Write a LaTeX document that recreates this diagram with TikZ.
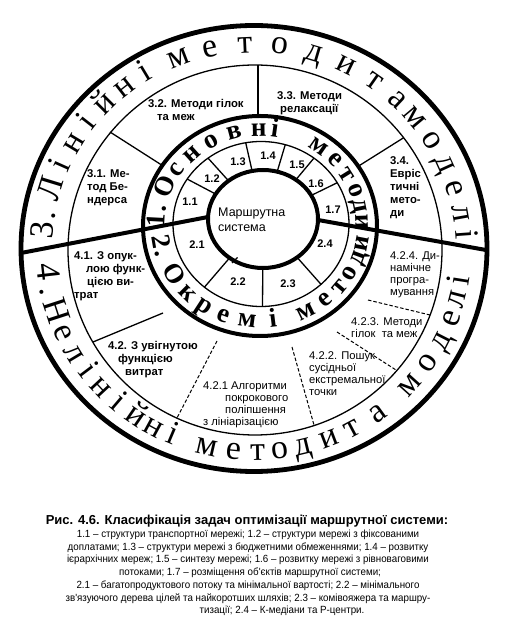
\documentclass[tikz,border=0pt]{standalone}
\usepackage{fontspec}
\setmainfont{Liberation Serif}
\newfontfamily\arialf{Liberation Sans}
\newfontfamily\arialn[FakeStretch=0.94]{Liberation Sans}
\begin{document}
\begin{tikzpicture}[x=1pt,y=1pt,
  thinline/.style={line width=1.3pt},
  thickline/.style={line width=4pt},
  dashline/.style={line width=1pt, dash pattern=on 3.5pt off 2pt},
  lblb/.style={font={\arialf\bfseries\fontsize{11.3}{13}\selectfont}, align=left, inner sep=0pt, anchor=north west},
  lblr/.style={font={\arialf\fontsize{11.2}{12.3}\selectfont}, align=left, inner sep=0pt, anchor=north west},
  numlbl/.style={font={\arialf\bfseries\fontsize{11}{12}\selectfont}, inner sep=0pt},
  outerch/.style={font={\fontsize{34}{34}\selectfont}, inner sep=0pt, anchor=base},
  innerch/.style={font={\bfseries\fontsize{27}{27}\selectfont}, inner sep=0pt, anchor=base},
  captb/.style={font={\arialf\bfseries\fontsize{13}{14}\selectfont}, inner sep=0pt, anchor=base},
  captr/.style={font={\arialn\fontsize{10.4}{12.6}\selectfont}, inner sep=0pt, anchor=base}]
\fill[white] (0,0) rectangle (506,624);
\useasboundingbox (0,0) rectangle (506,624);
% centres
\coordinate (Oc) at (254,375.5);
\coordinate (Tc) at (255,374);
\coordinate (Rc) at (260,398);
\coordinate (Sc) at (261,400);
\coordinate (Ic) at (263,405);
\coordinate (Cc) at (260.5,399);
% dividers of the outer cells
\coordinate (a1) at (110,492);   \coordinate (a2) at (171,453);
\coordinate (b1) at (258,559);   \coordinate (b2) at (258,500);
\coordinate (c1) at (403.7,486.3); \coordinate (c2) at (355,455.7);
\draw[thinline] (a1) -- (a2);
\draw[thinline] (b1) -- (b2);
\draw[thinline] (c1) -- (c2);
\coordinate (e1) at (93,282);  \coordinate (e2) at (163,311);
\coordinate (f1) at (217,283); \coordinate (f2) at (177,206);
\coordinate (g1) at (292,277); \coordinate (g2) at (314,199);
\coordinate (h1) at (337,292); \coordinate (h2) at (396,254);
\coordinate (k1) at (368,324); \coordinate (k2) at (430,309);
\draw[thinline] (e1) -- (e2);
\draw[dashline] (f1) -- (f2);
\draw[dashline] (g1) -- (g2);
\draw[dashline] (h1) -- (h2);
\draw[dashline] (k1) -- (k2);
\fill[white] (Rc) ellipse [x radius=117pt, y radius=110pt];
% dividers of the inner cells
\foreach \a in {147,127,100,74,53,30,230,271,313}
  \draw[thinline] ([shift={(Sc)}]\a:88pt and 82.5pt) -- (Ic);
\fill[white] (Ic) ellipse [x radius=55pt, y radius=49pt];
% thick dividing lines
\coordinate (L1) at (21,371);  \coordinate (L2) at (208,407);
\coordinate (R1) at (318,404); \coordinate (R2) at (486,374);
\draw[thickline] (L1) -- (L2);
\draw[thickline] (R1) -- (R2);
\coordinate (t1) at (232,361); \coordinate (t2) at (237.5,366.5);
\draw[thinline] (t1) -- (t2);
% labels
\node[lblb] (t31) at (87,455) {3.1. Ме-\\тод Бе-\\ндерса};
\node[lblb] (t32) at (148,525) {3.2. Методи гілок\\\hspace*{9pt}та меж};
\node[lblb] (t33) at (277,533) {3.3. Методи\\\hspace*{3pt}релаксації};
\node[lblb] (t34) at (390,468) {3.4.\\Евріс\\тичні\\мето-\\ди};
\node[lblb] (t41) at (74,373) {4.1. З опук-\\\hspace*{12pt}лою функ-\\\hspace*{13pt}цією ви-\\трат};
\node[lblb] (t42) at (108,283) {4.2. З увігнутою\\\hspace*{10pt}функцією\\\hspace*{17pt}витрат};
\node[lblr] (t421) at (203,243) {4.2.1 Алгоритми\\\hspace*{22pt}покрокового\\\hspace*{22pt}поліпшення\\з лініарізацією};
\node[lblr] (t422) at (309,273) {4.2.2. Пошук\\сусідньої\\екстремальної\\точки};
\node[lblr] (t423) at (351,307) {4.2.3. Методи\\гілок\ \ та меж};
\node[lblr] (t424) at (390,373) {4.2.4. Ди-\\намічне\\програ-\\мування};
% circles
\draw[line width=4.8pt] (Oc) ellipse [x radius=233pt, y radius=223pt];
\draw[thinline] (Tc) ellipse [x radius=187pt, y radius=185pt];
\draw[thickline] (Rc) ellipse [x radius=117pt, y radius=110pt];
\draw[thinline] (Sc) ellipse [x radius=88pt, y radius=82.5pt];
\draw[thickline] (Ic) ellipse [x radius=55pt, y radius=49pt];
% inner cell numbers
\node[numlbl] (n11) at (190,422) {1.1};
\node[numlbl] (n12) at (212,445) {1.2};
\node[numlbl] (n13) at (238,462) {1.3};
\node[numlbl] (n14) at (268,468) {1.4};
\node[numlbl] (n15) at (297,459) {1.5};
\node[numlbl] (n16) at (316,440) {1.6};
\node[numlbl] (n17) at (333,414) {1.7};
\node[numlbl] (n21) at (197,379) {2.1};
\node[numlbl] (n22) at (238,342) {2.2};
\node[numlbl] (n23) at (288,340) {2.3};
\node[numlbl] (n24) at (325,380) {2.4};
\node[font={\arialf\fontsize{12.5}{15}\selectfont}, align=left, inner sep=0pt, anchor=north west] (ms) at (218,416) {Маршрутна\\система};
% ring texts
\foreach \ch/\a [count=\i] in {3/175, ./170.5, Л/163, і/156, н/149, і/142, й/135, н/128, і/121, м/111, е/102, т/92.5, о/83, д/73.5, и/64, т/55, а/47, м/40, о/32, д/24.5, е/17, л/10, і/4}
  \node[outerch, rotate=\a-90] (ou\i) at ([shift={(Oc)}]\a:202pt and 196pt) {\ch};
\foreach \ch/\a [count=\i] in {4/186.5, ./192, Н/198, е/204.5, л/211, і/217, н/223, і/229.5, й/235.5, н/241.5, і/247, м/257, е/264.5, т/271, о/277, д/283.5, и/291, т/298, а/306, м/318, о/326, д/333, е/340, л/345.5, і/351}
  \node[outerch, rotate=\a+90] (ol\i) at ([shift={(Oc)}]\a:218pt and 212pt) {\ch};
\foreach \ch/\a [count=\i] in {1/177, ./170, О/157, с/145, н/132, о/119, в/105, н/91, і/82, м/55, е/43, т/32, о/21, д/11.5, и/2}
  \node[innerch, rotate=\a-90] (iu\i) at ([shift={(Cc)}]\a:95.5pt and 89pt) {\ch};
\foreach \ch/\a [count=\i] in {2/190, ./197, О/211, к/225, р/237, е/249, м/262.5, і/277, м/296, е/309, т/320, о/330, д/340, и/349}
  \node[innerch, rotate=\a+90] (il\i) at ([shift={(Cc)}]\a:109.5pt and 103pt) {\ch};
% caption
\node[captb] (cap0) at (247,99) {Рис. 4.6. Класифікація задач оптимізації маршрутної системи:};
\node[captr] (cap1) at (248,86) {1.1 – структури транспортної мережі; 1.2 – структури мережі з фіксованими};
\node[captr] (cap2) at (248,73) {доплатами; 1.3 – структури мережі з бюджетними обмеженнями; 1.4 – розвитку};
\node[captr] (cap3) at (248,61) {ієрархічних мереж; 1.5 – синтезу мережі; 1.6 – розвитку мережі з рівноваговими};
\node[captr] (cap4) at (250,48) {потоками; 1.7 – розміщення об'єктів маршрутної системи;};
\node[captr] (cap5) at (248,35) {2.1 – багатопродуктового потоку та мінімальної вартості; 2.2 – мінімального};
\node[captr] (cap6) at (248,22) {зв'язуючого дерева цілей та найкоротших шляхів; 2.3 – комівояжера та маршру-};
\node[captr] (cap7) at (282,10) {тизації; 2.4 – К-медіани та Р-центри.};
\end{tikzpicture}
\end{document}
